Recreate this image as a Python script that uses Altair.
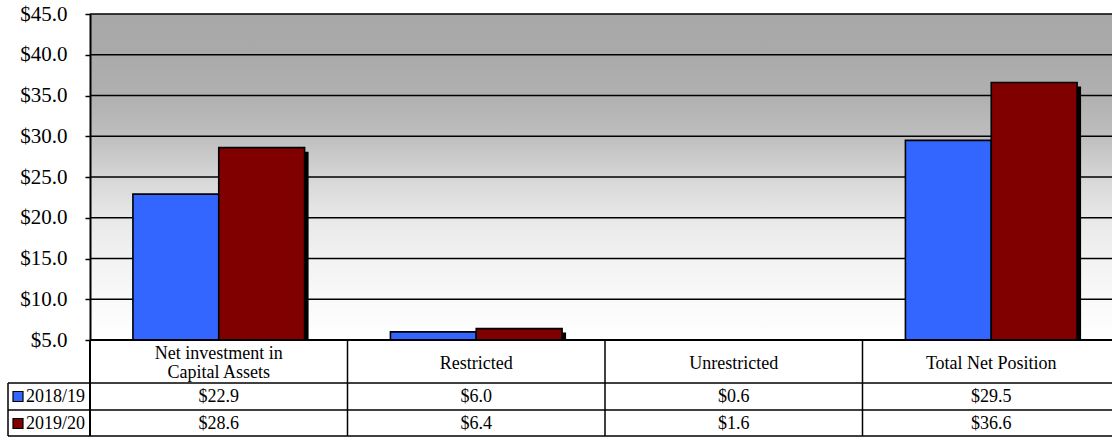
import altair as alt
import pandas as pd

# ---------------- data ----------------
categories = ["Net investment in Capital Assets", "Restricted", "Unrestricted", "Total Net Position"]
header_labels = ["Net investment in\nCapital Assets", "Restricted", "Unrestricted", "Total Net Position"]
series = ["2018/19", "2019/20"]
values_2018 = [22.9, 6.0, 0.6, 29.5]
values_2019 = [28.6, 6.4, 1.6, 36.6]
series_colors = ["#3366FF", "#800000"]
y_ticks = [5, 10, 15, 20, 25, 30, 35, 40, 45]

# ---------------- layout ----------------
F = "Liberation Serif"
W, H = 1022, 326
XRANGE = 1030
BW = XRANGE / len(categories) / 3  # bar width: two bars fill 2/3 of a category band
ROW_Y = [382.5, 409.5]
LINE_H = 19
SH = 4  # shadow offset

rows = []
for s, vals in zip(series, [values_2018, values_2019]):
    for c, v in zip(categories, vals):
        rows.append({"category": c, "series": s, "value": v})
df = pd.DataFrame(rows)
hdr_df = pd.DataFrame({"category": categories, "label": header_labels,
                       "nlines": [l.count("\n") + 1 for l in header_labels]})
grid_df = pd.DataFrame({"tick": y_ticks[1:]})
base_df = pd.DataFrame({"tick": [y_ticks[0]]})
ser_df = pd.DataFrame({"series": series})
one = alt.Data(values=[{}])

xscale = alt.Scale(domain=categories, range=[0, XRANGE], paddingInner=0, paddingOuter=0)
yscale = alt.Scale(domain=[5, 45], nice=False, zero=False)
cscale = alt.Scale(domain=series, range=series_colors)

yaxis = alt.Axis(values=y_ticks, format="$.1f", labelFont=F, labelFontSize=21,
                 labelColor="black", tickColor="black", tickSize=5, tickWidth=1.5,
                 domainColor="black", domainWidth=2, labelPadding=18, grid=False,
                 title=None, zindex=1)

gradient = alt.Gradient(
    gradient="linear", x1=0, x2=0, y1=0, y2=1,
    stops=[
        alt.GradientStop(offset=0.0, color="#a8a8a8"),
        alt.GradientStop(offset=0.12, color="#aaaaaa"),
        alt.GradientStop(offset=0.25, color="#b0b0b0"),
        alt.GradientStop(offset=0.375, color="#bebebe"),
        alt.GradientStop(offset=0.5, color="#d6d6d6"),
        alt.GradientStop(offset=0.625, color="#e8e8e8"),
        alt.GradientStop(offset=0.75, color="#f2f2f2"),
        alt.GradientStop(offset=0.875, color="#f9f9f9"),
        alt.GradientStop(offset=1.0, color="#ffffff"),
    ],
)

def Y(field):
    return alt.Y(field, scale=yscale, axis=yaxis)

XC = alt.X("category:N", scale=xscale, axis=None)

layers = []

# background
layers.append(alt.Chart(one).mark_rect(color=gradient).encode(
    x=alt.value(0), x2=alt.value(W), y=alt.value(0), y2=alt.value(H)))

# gridlines
layers.append(alt.Chart(grid_df).mark_rule(color="black", strokeWidth=1.5).encode(
    y=Y("tick:Q"), x=alt.value(0), x2=alt.value(W)))

# shadows, then bars (one layer per series, side by side in each band)
for i, s in enumerate(series):
    off = (i - 0.5) * BW
    layers.append(alt.Chart(df).transform_filter(alt.datum.series == s).mark_bar(
        color="black", width=BW, xOffset=off + SH, yOffset=SH, clip=True).encode(
        x=XC, y=Y("value:Q"), y2=alt.datum(5)))
for i, s in enumerate(series):
    off = (i - 0.5) * BW
    layers.append(alt.Chart(df).transform_filter(alt.datum.series == s).mark_bar(
        stroke="black", strokeWidth=1.6, width=BW, xOffset=off, clip=True).encode(
        x=XC, y=Y("value:Q"), y2=alt.datum(5),
        color=alt.Color("series:N", scale=cscale, legend=None)))

# baseline
layers.append(alt.Chart(base_df).mark_rule(color="black", strokeWidth=2).encode(
    y=Y("tick:Q"), x=alt.value(0), x2=alt.value(W)))

# table horizontal lines
for yy in [369, 396, 422]:
    layers.append(alt.Chart(one).mark_rule(color="black", strokeWidth=1.5).encode(
        x=alt.value(-82), x2=alt.value(W), y=alt.value(yy)))
# table vertical lines
layers.append(alt.Chart(one).mark_rule(color="black", strokeWidth=1.5).encode(
    x=alt.value(-82), y=alt.value(369), y2=alt.value(422)))
layers.append(alt.Chart(one).mark_rule(color="black", strokeWidth=2).encode(
    x=alt.value(0), y=alt.value(H), y2=alt.value(422)))
layers.append(alt.Chart(hdr_df).mark_rule(color="black", strokeWidth=1.5).encode(
    x=alt.X("category:N", scale=xscale, axis=None, bandPosition=0),
    y=alt.value(H), y2=alt.value(422)))

# header labels (block centred in the header row)
for n in sorted(set(hdr_df["nlines"])):
    layers.append(alt.Chart(hdr_df).transform_filter(alt.datum.nlines == n).mark_text(
        font=F, fontSize=18, lineBreak="\n", lineHeight=LINE_H,
        baseline="middle", color="black").encode(
        x=XC, y=alt.value(349.5 - (n - 1) * LINE_H / 2), text="label:N"))

# value rows + legend cells
for i, s in enumerate(series):
    layers.append(alt.Chart(df).transform_filter(alt.datum.series == s).mark_text(
        font=F, fontSize=18, baseline="middle", color="black").encode(
        x=XC, y=alt.value(ROW_Y[i]),
        text=alt.Text("value:Q", format="$.1f")))
    layers.append(alt.Chart(ser_df).transform_filter(alt.datum.series == s).mark_square(
        size=100, opacity=1, stroke="black", strokeWidth=1.2).encode(
        x=alt.value(-72), y=alt.value(ROW_Y[i]),
        color=alt.Color("series:N", scale=cscale, legend=None)))
    layers.append(alt.Chart(ser_df).transform_filter(alt.datum.series == s).mark_text(
        font=F, fontSize=18, baseline="middle", align="left", color="black").encode(
        x=alt.value(-64), y=alt.value(ROW_Y[i]), text="series:N"))

chart = alt.layer(*layers).properties(
    width=W, height=H,
    autosize=alt.AutoSizeParams(type="none"),
    padding={"left": 90, "top": 14, "right": 0, "bottom": 97},
    background="white",
).configure_view(stroke=None)

chart.save("out.html", embed_options={"renderer": "svg", "actions": False})
